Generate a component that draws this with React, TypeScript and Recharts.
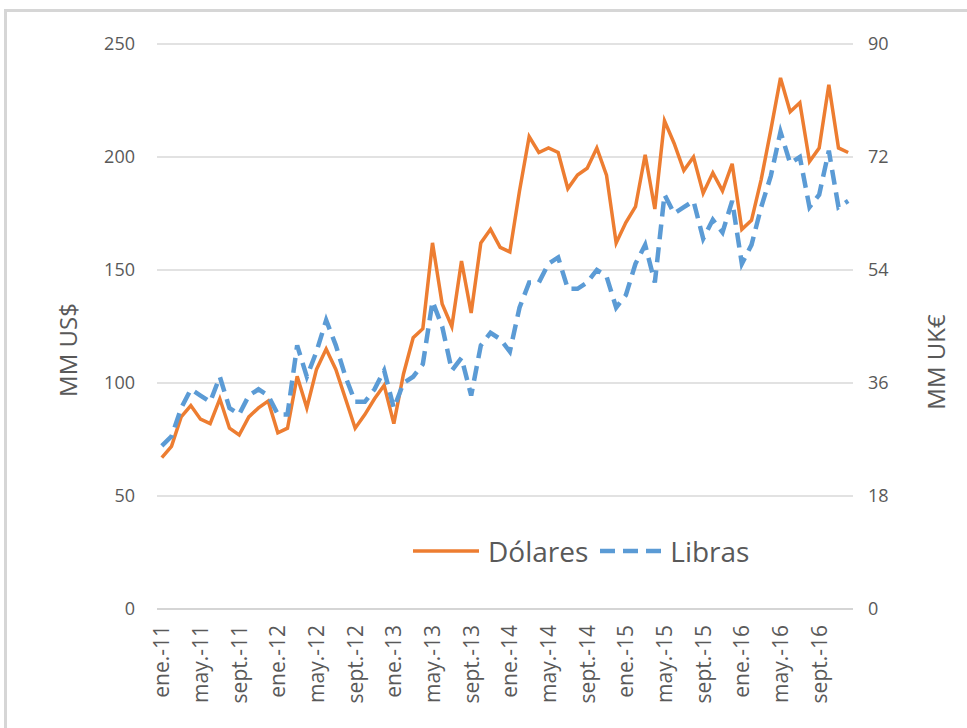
import React from 'react';
import { LineChart, Line, XAxis, YAxis, CartesianGrid, Label } from 'recharts';

const monthNames = ['ene.', 'feb.', 'mar.', 'abr.', 'may.', 'jun.', 'jul.', 'ago.', 'sept.', 'oct.', 'nov.', 'dic.'];
const years = ['11', '12', '13', '14', '15', '16'];
const months = years.flatMap((y) => monthNames.map((m) => `${m}-${y}`));

const dolares = [
  67, 72, 85, 90, 84, 82, 93, 80, 77, 85, 89, 92,
  78, 80, 103, 89, 106, 115, 106, 93, 80, 86, 93, 99,
  82, 104, 120, 124, 162, 135, 125, 154, 131, 162, 168, 160,
  158, 185, 209, 202, 204, 202, 186, 192, 195, 204, 192, 162,
  171, 178, 201, 177, 216, 206, 194, 200, 184, 193, 185, 197,
  168, 172, 190, 212, 235, 220, 224, 198, 204, 232, 204, 202,
];

const libras = [
  26, 27.5, 32, 35, 34, 33, 37, 32, 31, 34, 35, 34,
  31, 31, 42, 37, 41, 46, 42, 37, 33, 33, 35, 38,
  32, 36, 37, 39, 49, 45, 38, 40, 34, 42, 44, 43,
  41, 48, 52, 52, 55, 56, 51, 51, 52, 54, 53, 48,
  50, 55, 58, 52, 66, 63, 64, 65, 59, 62, 60, 65,
  55, 58, 64, 69, 76, 71, 72, 64, 66, 73, 64, 65,
];

const leftTicks = [0, 50, 100, 150, 200, 250];
const rightTicks = [0, 18, 36, 54, 72, 90];

const data = months.map((m, i) => ({ month: m, dolares: dolares[i], libras: libras[i] }));

const TEXT = '#595959';
const FONT = "'Open Sans', 'Noto Sans', sans-serif";
const ORANGE = '#ED7D31';
const BLUE = '#5B9BD5';

const XTick = (props: any) => {
  const { x, y, payload } = props;
  return (
    <g transform={`translate(${x},${y})`}>
      <text transform="rotate(-90)" x={-8} y={0} dy="0.35em" textAnchor="end" fill={TEXT} fontSize={21} fontFamily={FONT}>
        {payload.value}
      </text>
    </g>
  );
};

const AxisTitle = (cx: number, cy: number, text: string) => () => (
  <text x={cx} y={cy} transform={`rotate(-90, ${cx}, ${cy})`} textAnchor="middle" dominantBaseline="central" fill={TEXT} fontSize={24} fontFamily={FONT}>
    {text}
  </text>
);

export default function App() {
  return (
    <div style={{ position: 'absolute', left: 0, top: 0, width: 967, height: 728, background: '#fff', overflow: 'hidden' }}>
      <div style={{ position: 'absolute', left: 4, top: 9, width: 963, height: 719, borderTop: '3px solid #d6d6d6', borderLeft: '3px solid #d6d6d6', boxSizing: 'border-box' }} />
      <div style={{ position: 'absolute', left: 0, top: 0 }}>
        <LineChart width={967} height={728} data={data} margin={{ top: 44, right: 54, bottom: 29, left: 77 }}>
          <CartesianGrid yAxisId="left" vertical={false} stroke="#d9d9d9" strokeWidth={1.3} />
          <XAxis
            dataKey="month"
            interval={3}
            tick={<XTick />}
            tickLine={false}
            axisLine={{ stroke: '#d0d0d0', strokeWidth: 1.5 }}
            height={90}
            padding={{ left: 4.83, right: 4.83 }}
          />
          <YAxis
            yAxisId="left"
            domain={[0, 250]}
            ticks={leftTicks}
            width={80}
            axisLine={false}
            tickLine={false}
            tickMargin={16}
            tick={{ fill: TEXT, fontSize: 18, fontFamily: FONT }}
          >
            <Label content={AxisTitle(67, 350, 'MM US$')} />
          </YAxis>
          <YAxis
            yAxisId="right"
            orientation="right"
            domain={[0, 90]}
            ticks={rightTicks}
            width={60}
            axisLine={false}
            tickLine={false}
            tickMargin={9}
            tick={{ fill: TEXT, fontSize: 18, fontFamily: FONT, textAnchor: 'start' }}
          >
            <Label content={AxisTitle(935, 362, 'MM UK€')} />
          </YAxis>
          <Line yAxisId="left" type="linear" dataKey="dolares" name="Dólares" stroke={ORANGE} strokeWidth={3.5} dot={false} activeDot={false} isAnimationActive={false} />
          <Line yAxisId="right" type="linear" dataKey="libras" name="Libras" stroke={BLUE} strokeWidth={4.5} strokeDasharray="15 8" dot={false} activeDot={false} isAnimationActive={false} />
        </LineChart>
      </div>
      <div style={{ position: 'absolute', left: 413, top: 532, display: 'flex', alignItems: 'center', fontFamily: FONT, fontSize: 28, color: TEXT, whiteSpace: 'nowrap', height: 38 }}>
        <svg width={66} height={12}>
          <line x1={0} y1={6} x2={66} y2={6} stroke={ORANGE} strokeWidth={3.5} />
        </svg>
        <span style={{ marginLeft: 9 }}>Dólares</span>
        <svg width={62} height={12} style={{ marginLeft: 12 }}>
          <line x1={0} y1={6} x2={62} y2={6} stroke={BLUE} strokeWidth={4.5} strokeDasharray="15 8" />
        </svg>
        <span style={{ marginLeft: 8 }}>Libras</span>
      </div>
    </div>
  );
}
